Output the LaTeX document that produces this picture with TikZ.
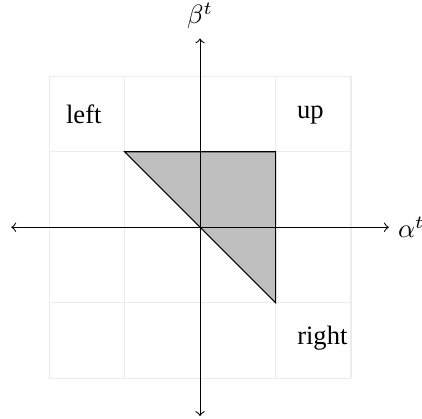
\documentclass[tikz,border=0pt]{standalone}
\usepackage{fontspec}
\setmainfont{Liberation Serif}
\begin{document}
\begin{tikzpicture}
            \useasboundingbox (-2.65,-2.53) rectangle (2.94,3.01);
            \draw[gray!15] (-2,-2) grid (2,2);
            \filldraw[fill=gray!50, draw=black] (-1,1) -- (1,1) -- (1,-1) -- cycle;
            \draw[<->] (-2.5,0) -- (2.5,0) node[right] {$\alpha^t$};
            \draw[<->] (0,-2.5) -- (0,2.5) node[above] {$\beta^t$};
            \foreach \x/\y/\name in {-1.54/1.49/left, 1.46/1.49/up, 1.62/-1.47/right}
            \node (\name) at (\x,\y) {\name};
        \end{tikzpicture}
\end{document}
